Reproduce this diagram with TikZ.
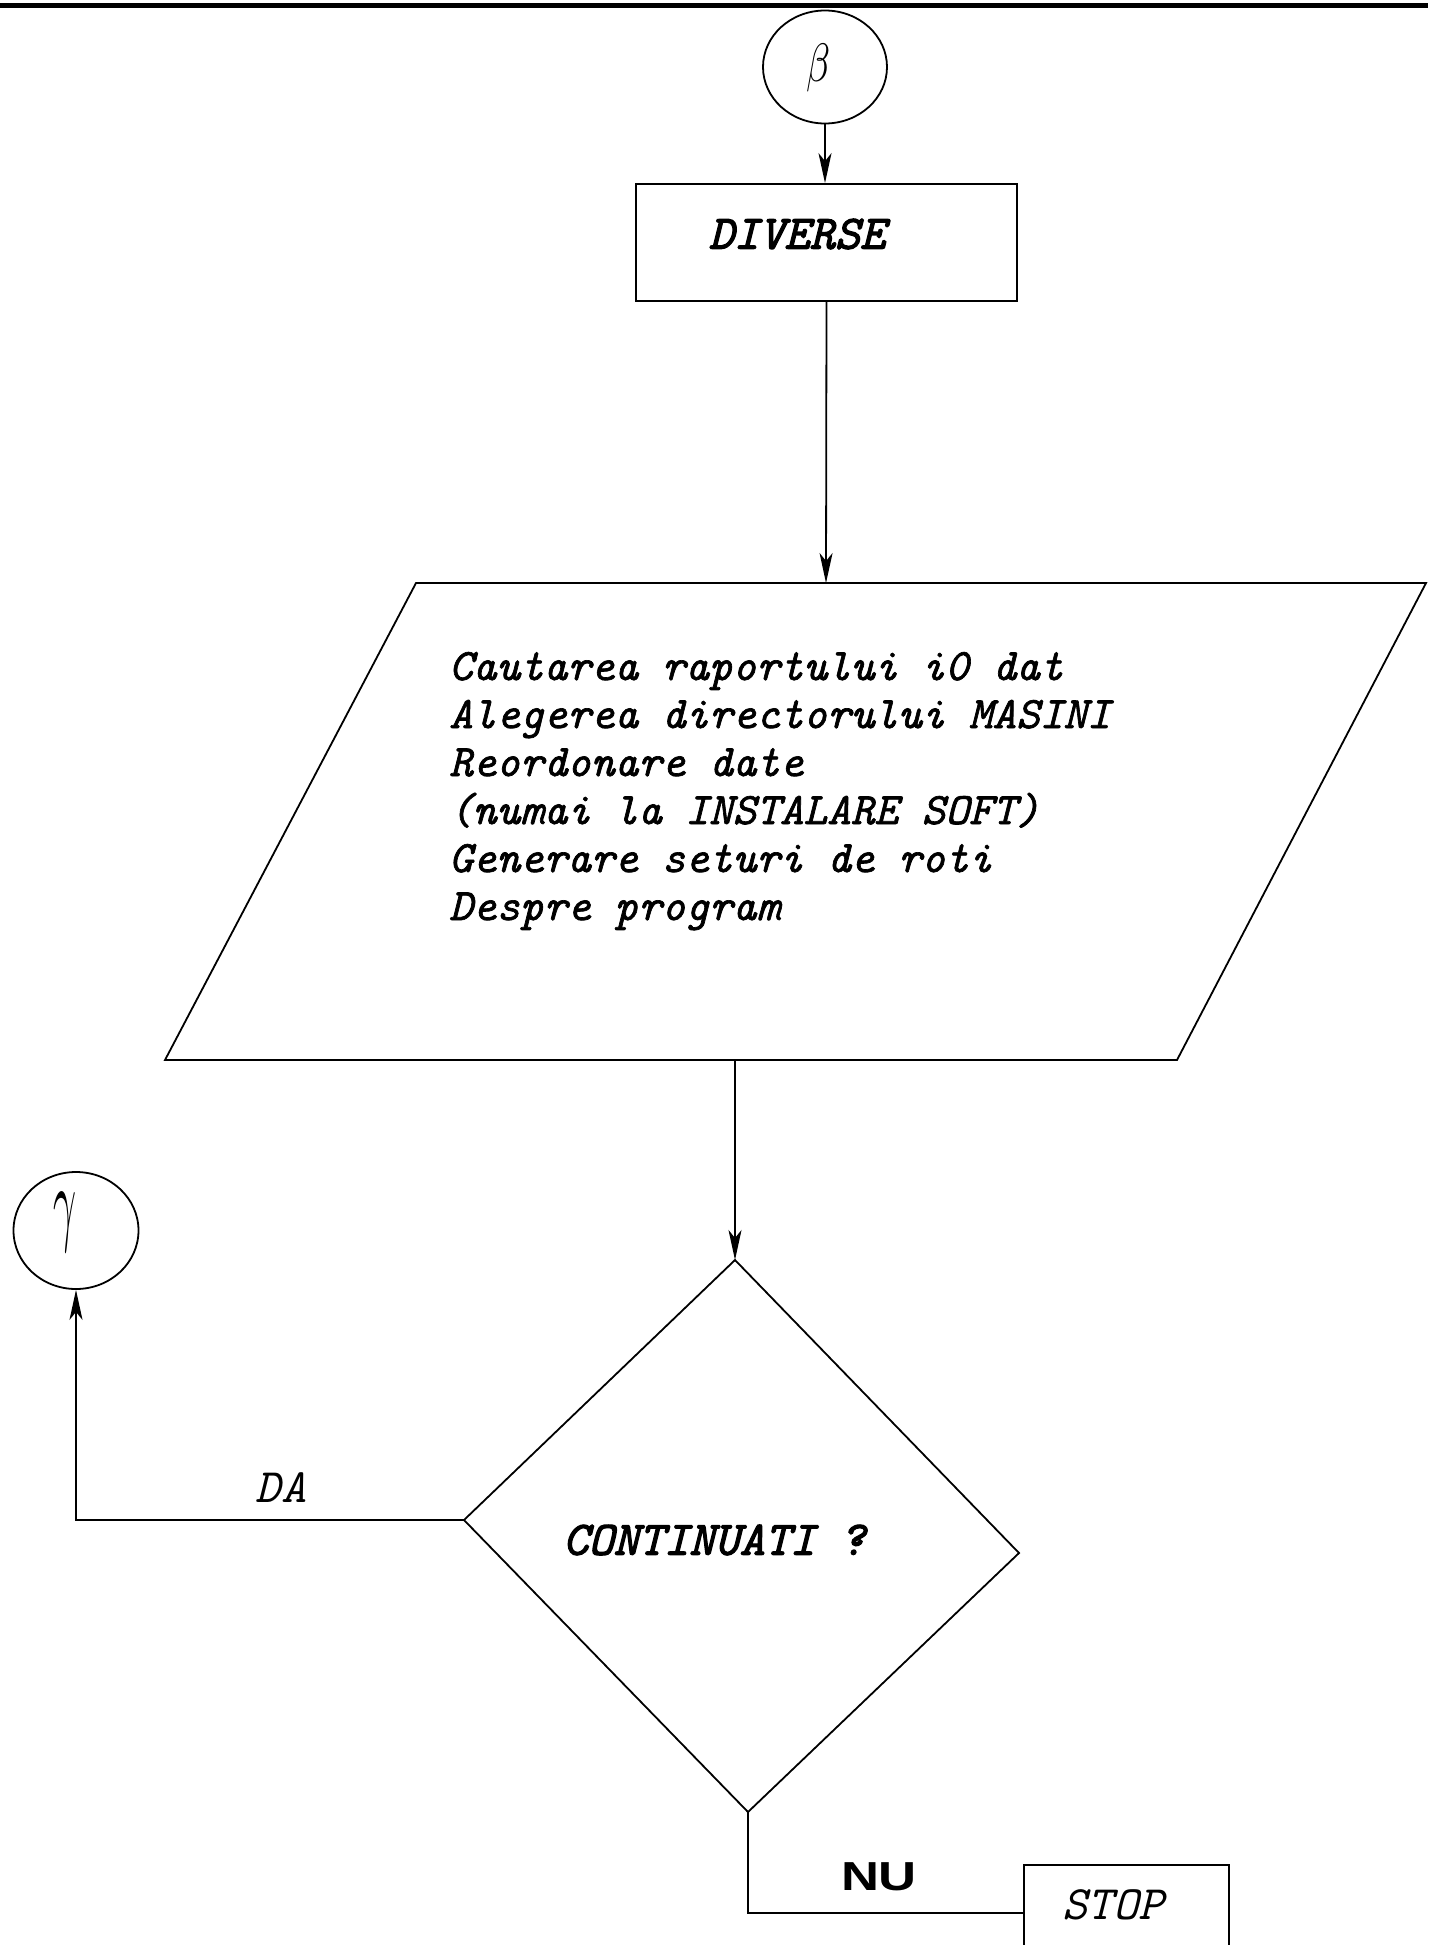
\documentclass[tikz,border=0pt]{standalone}
\usepackage{fontspec}
\usetikzlibrary{arrows.meta,shapes.geometric}
% typewriter italic used for all labels of the flowchart
\newfontfamily\flowfont{lmmono10-italic.otf}
\newfontfamily\flowheavy{lmmono10-italic.otf}[FakeBold=1.5]
\newfontfamily\flowbold{lmmono10-italic.otf}[FakeBold=2.5]
\newfontfamily\nufont{Liberation Sans Bold}

\tikzset{
  flow/.style={draw, line width=1.8pt},
  conn/.style={line width=1.8pt, -{Stealth[length=30pt,width=13pt,inset=8pt]}},
  plainlabel/.style={inner sep=0pt, font={\flowfont\fontsize{48pt}{48pt}\selectfont}},
  heavylabel/.style={inner sep=0pt, font={\flowbold\fontsize{48pt}{48pt}\selectfont}},
  connector/.style={draw, ellipse, line width=1.8pt, inner sep=0pt},
  procbox/.style={draw, rectangle, line width=1.8pt, inner sep=0pt},
}

\begin{document}
\begin{tikzpicture}[x=1pt, y=-1pt]
\useasboundingbox (0,0) rectangle (1428,1945);
\begin{scope}
\clip (0,0) rectangle (1428,1945);

% heavy rule across the top of the page
\draw[line width=5pt] (0,5.5) -- (1428,5.5);

% entry connector
\node[connector, minimum width=124pt, minimum height=113pt] (beta) at (825,67) {};
\node (betatxt) at (819,68) {\scalebox{3.9}[5.4]{$\beta$}};

% DIVERSE process box
\node[procbox, minimum width=381pt, minimum height=117pt] (diverse) at (826.5,242.5) {};
\node[heavylabel] (divtxt) at (797,234) {DIVERSE};

% menu (input/output parallelogram)
\coordinate (pTL) at (416,583);
\coordinate (pTR) at (1426,583);
\coordinate (pBR) at (1177,1060);
\coordinate (pBL) at (165,1060);
\coordinate (pIn) at (826,583);
\coordinate (pOut) at (735,1060);
\draw[flow] (pTL) -- (pTR) -- (pBR) -- (pBL) -- cycle;
% base anchor sits on the last line: 680 + 5 x 48
\node[anchor=base west, align=left, inner sep=0pt,
      font={\flowheavy\fontsize{45pt}{48pt}\selectfont}] (menu) at (449,920)
  {Cautarea raportului i0 dat\\
   Alegerea directorului MASINI\\
   Reordonare date\\
   (numai la INSTALARE SOFT)\\
   Generare seturi de roti\\
   Despre program};

% decision
\coordinate (dT) at (735,1260);
\coordinate (dL) at (464,1520);
\coordinate (dR) at (1019,1553);
\coordinate (dB) at (748,1812);
\draw[flow] (dT) -- (dR) -- (dB) -- (dL) -- cycle;
\node[heavylabel, anchor=west] (cont) at (563,1540) {CONTINUATI ?};

% exit connector
\node[connector, minimum width=125pt, minimum height=117pt] (gamma) at (76,1230.5) {};
\node (gammatxt) at (65,1222) {\scalebox{4}[9.5]{$\gamma$}};

% STOP box (runs off the bottom edge)
\node[procbox, minimum width=205pt, minimum height=96pt] (stop) at (1126.5,1913) {};
\node[plainlabel] (stoptxt) at (1113,1905) {STOP};

% connectors
\draw[conn] (beta.south) -- (beta.south |- diverse.north);
\draw[conn] (diverse.south) -- (pIn);
\draw[conn] (pOut) -- (dT);
\draw[conn] (dL) -| (gamma);
\draw[flow] (dB) |- (stop.west);

% branch labels
\node[plainlabel] (da) at (281,1488) {DA};
\node[inner sep=0pt, font={\nufont\fontsize{40.5pt}{40.5pt}\selectfont}] (nu) at (879,1877)
  {\scalebox{1.3}[1]{N\kern-1.5ptU}};
\end{scope}
\end{tikzpicture}
\end{document}
